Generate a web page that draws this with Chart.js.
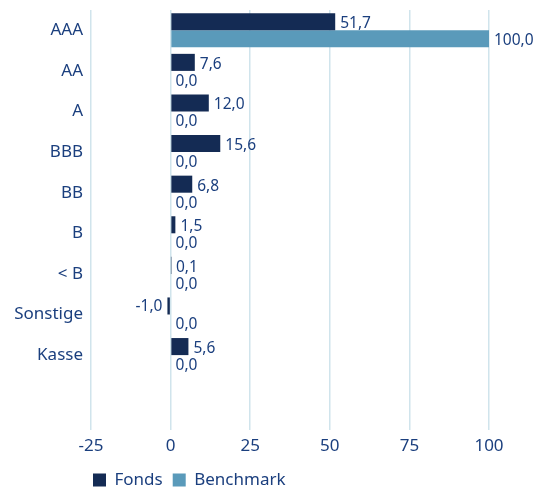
<!DOCTYPE html>
<html>
<head>
<meta charset="utf-8">
<script src="https://cdn.jsdelivr.net/npm/chart.js@4/dist/chart.umd.min.js"></script>
<style>
  html, body { margin: 0; padding: 0; background: #ffffff; }
  #wrap { width: 547px; height: 490px; position: relative; }
</style>
</head>
<body>
<div id="wrap"><canvas id="c"></canvas></div>
<script>
const categories = ['AAA', 'AA', 'A', 'BBB', 'BB', 'B', '< B', 'Sonstige', 'Kasse', ''];
const fondsValues = [51.7, 7.6, 12.0, 15.6, 6.8, 1.5, 0.1, -1.0, 5.6, null];
const benchmarkValues = [100.0, 0.0, 0.0, 0.0, 0.0, 0.0, 0.0, 0.0, 0.0, null];
const seriesNames = ['Fonds', 'Benchmark'];
const xTicks = [-25, 0, 25, 50, 75, 100];

const TEXT = '#1b3f7e';
const FONT = "'Noto Sans', sans-serif";

const labelPlugin = {
  id: 'barLabels',
  afterLayout(chart) {
    const lg = chart.legend;
    if (lg) { lg.left -= 8; lg.right -= 8; }
  },
  afterDatasetsDraw(chart) {
    const ctx = chart.ctx;
    ctx.save();
    ctx.font = "15.5px " + FONT;
    ctx.fillStyle = TEXT;
    ctx.textBaseline = 'middle';
    chart.data.datasets.forEach((ds, di) => {
      const meta = chart.getDatasetMeta(di);
      meta.data.forEach((bar, i) => {
        const v = ds.data[i];
        if (v === null || v === undefined) return;
        const txt = v.toFixed(1).replace('.', ',');
        if (v < 0) {
          ctx.textAlign = 'right';
          ctx.fillText(txt, bar.x - 5, bar.y + 1);
        } else {
          ctx.textAlign = 'left';
          ctx.fillText(txt, bar.x + 5, bar.y + 2);
        }
      });
    });
    ctx.restore();
  }
};

new Chart(document.getElementById('c'), {
  type: 'bar',
  data: {
    labels: categories,
    datasets: [
      { label: seriesNames[0], data: fondsValues, backgroundColor: '#142b54', borderWidth: 0,
        categoryPercentage: 0.84, barPercentage: 1.0 },
      { label: seriesNames[1], data: benchmarkValues, backgroundColor: '#5a9aba', borderWidth: 0,
        categoryPercentage: 0.84, barPercentage: 1.0 }
    ]
  },
  options: {
    indexAxis: 'y',
    responsive: true,
    maintainAspectRatio: false,
    animation: false,
    layout: { padding: { top: 10, right: 58, left: 0, bottom: -8.5 } },
    plugins: {
      tooltip: { enabled: false },
      legend: {
        position: 'bottom',
        align: 'start',
        fullSize: false,
        labels: {
          boxWidth: 13, boxHeight: 13, padding: 10,
          color: TEXT,
          font: { family: FONT, size: 17 }
        }
      }
    },
    scales: {
      x: {
        type: 'linear',
        min: -25, max: 100,
        afterBuildTicks(scale) { scale.ticks = xTicks.map(v => ({ value: v })); },
        grid: { color: '#d0e4ec', lineWidth: 1.5, tickLength: 14, drawOnChartArea: true },
        border: { display: false },
        ticks: { color: TEXT, font: { family: FONT, size: 17 }, padding: 6 },
        afterFit(scale) { scale.height = 45.5; }
      },
      y: {
        grid: { display: false, drawTicks: false },
        border: { display: false },
        ticks: { color: TEXT, font: { family: FONT, size: 17 }, padding: 8 },
        afterFit(scale) { scale.width = 91; scale.paddingTop = 0; scale.paddingBottom = 0; }
      }
    }
  },
  plugins: [labelPlugin]
});
</script>
</body>
</html>
